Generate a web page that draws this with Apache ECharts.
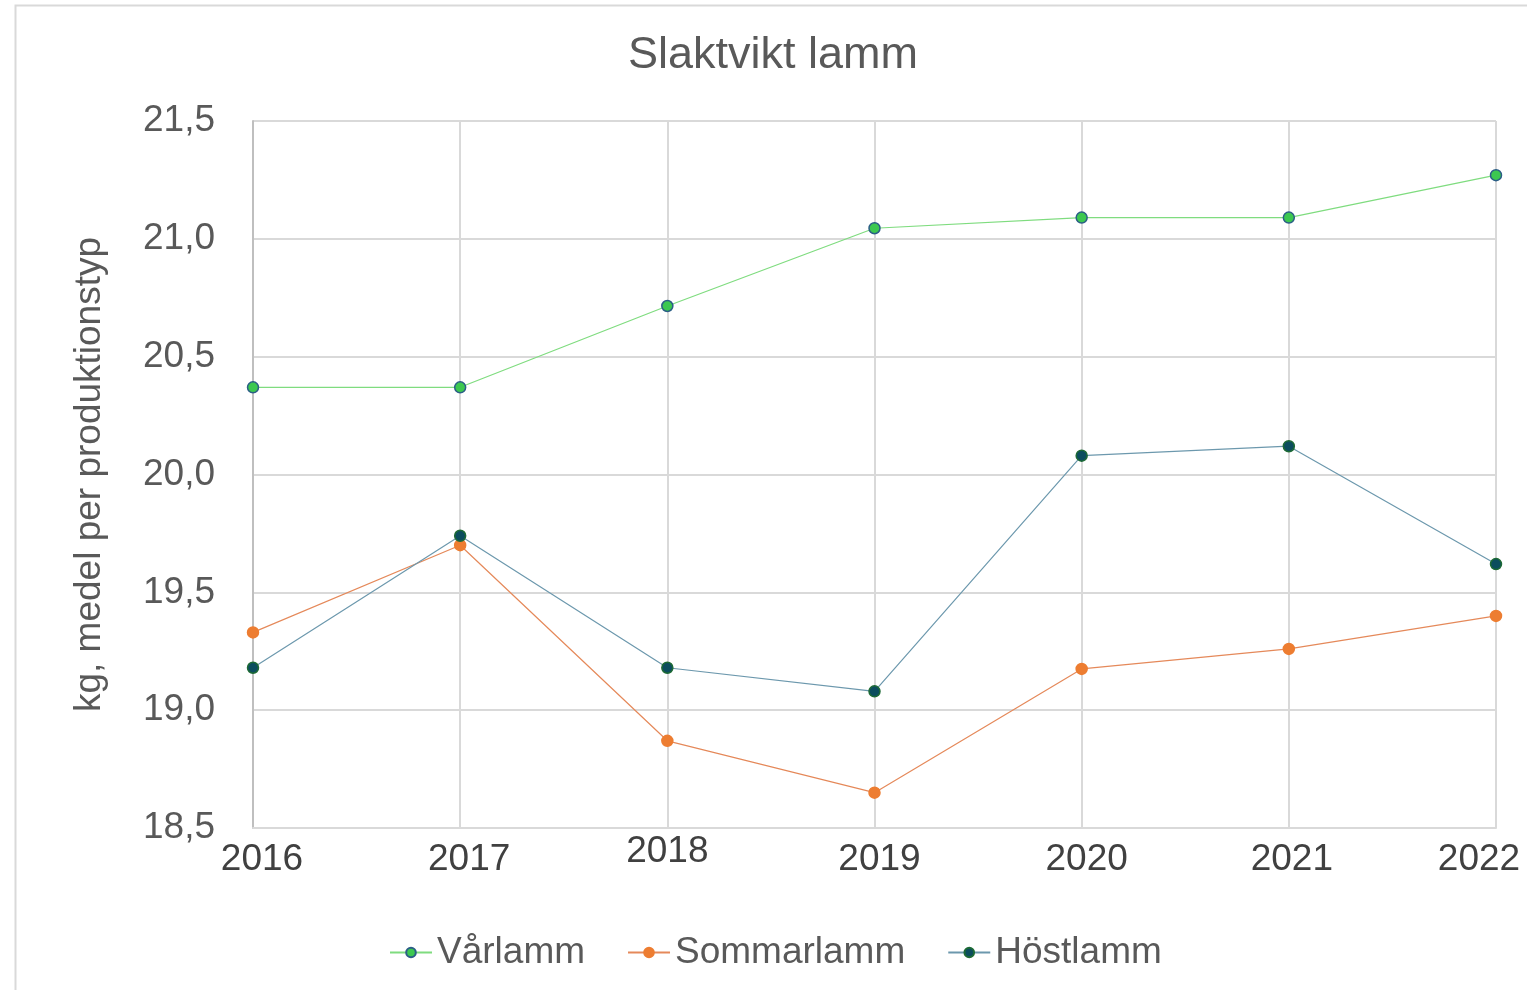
<!DOCTYPE html>
<html>
<head>
<meta charset="utf-8">
<script src="https://cdn.jsdelivr.net/npm/echarts@6/dist/echarts.min.js"></script>
<style>
  html, body { margin: 0; padding: 0; background: #fff; }
  #chart { width: 1527px; height: 990px; }
</style>
</head>
<body>
<div id="chart"></div>
<script>
var years = ['2016', '2017', '2018', '2019', '2020', '2021', '2022'];
var varlamm = [20.37, 20.37, 20.715, 21.045, 21.09, 21.09, 21.27];
var sommarlamm = [19.33, 19.70, 18.87, 18.65, 19.175, 19.26, 19.40];
var hostlamm = [19.18, 19.74, 19.18, 19.08, 20.08, 20.12, 19.62];

var FONT = '"Liberation Sans", Arial, sans-serif';
var TEXT_COLOR = '#595959';

var chart = echarts.init(document.getElementById('chart'));

function lineSeries(name, data, lineColor, fill, border){
  return {
    name: name,
    type: 'line',
    data: data,
    symbol: 'circle',
    symbolSize: 11,
    lineStyle: {color: lineColor, width: 1.2},
    itemStyle: {color: fill, borderColor: border, borderWidth: 1.5},
    emphasis: {disabled: true}
  };
}

// small per-label nudges so the year labels sit like in the original
var labelRich = {
  a0: {padding: [8, 0, 0, 18]},
  a1: {padding: [8, 0, 0, 18]},
  a2: {padding: [0, 0, 0, 0]},
  a3: {padding: [8, 0, 0, 10]},
  a4: {padding: [8, 0, 0, 10]},
  a5: {padding: [8, 0, 0, 6]},
  a6: {padding: [8, 34, 0, 0]}
};
Object.keys(labelRich).forEach(function(k){
  labelRich[k].fontFamily = FONT;
  labelRich[k].fontSize = 37;
  labelRich[k].color = '#404040';
});

var option = {
  backgroundColor: '#fff',
  animation: false,
  graphic: [{
    type: 'rect',
    shape: {x: 15.5, y: 5.5, width: 1540, height: 1000},
    style: {fill: 'none', stroke: '#d9d9d9', lineWidth: 2},
    silent: true
  }],
  title: {
    text: 'Slaktvikt lamm',
    left: 623,
    top: 28,
    textStyle: {fontFamily: FONT, fontSize: 45, fontWeight: 'normal', color: TEXT_COLOR}
  },
  grid: {left: 253, right: 31, top: 121, bottom: 162, outerBoundsMode: 'none', containLabel: false},
  legend: {
    bottom: 14,
    left: 384,
    itemGap: 42,
    itemWidth: 42,
    itemHeight: 12,
    textStyle: {fontFamily: FONT, fontSize: 37, color: TEXT_COLOR},
    data: ['Vårlamm', 'Sommarlamm', 'Höstlamm']
  },
  xAxis: {
    type: 'category',
    data: years,
    boundaryGap: false,
    axisLine: {show: true, lineStyle: {color: '#d9d9d9', width: 2}},
    axisTick: {show: false},
    splitLine: {show: true, lineStyle: {color: '#d9d9d9', width: 2}},
    axisLabel: {
      fontFamily: FONT, fontSize: 37, color: '#404040', margin: 5,
      formatter: function(v, i){ return '{a' + i + '|' + v + '}'; },
      rich: labelRich
    }
  },
  yAxis: {
    type: 'value',
    min: 18.5,
    max: 21.5,
    interval: 0.5,
    name: 'kg, medel per produktionstyp',
    nameLocation: 'middle',
    nameGap: 145,
    nameTextStyle: {fontFamily: FONT, fontSize: 37, color: TEXT_COLOR},
    axisLine: {show: true, lineStyle: {color: '#bfbfbf', width: 2}},
    axisTick: {show: false},
    splitLine: {lineStyle: {color: '#d9d9d9', width: 2}},
    axisLabel: {
      fontFamily: FONT, fontSize: 37, color: TEXT_COLOR, margin: 38,
      formatter: function(v){ return v.toFixed(1).replace('.', ','); }
    }
  },
  series: [
    lineSeries('Vårlamm', varlamm, '#7fdc7f', '#3cc850', '#2b5e86'),
    lineSeries('Sommarlamm', sommarlamm, '#e5895a', '#ed7d31', '#ed7d31'),
    lineSeries('Höstlamm', hostlamm, '#6c98ad', '#0b4d5e', '#1d6a35')
  ]
};

chart.setOption(option);
</script>
</body>
</html>
